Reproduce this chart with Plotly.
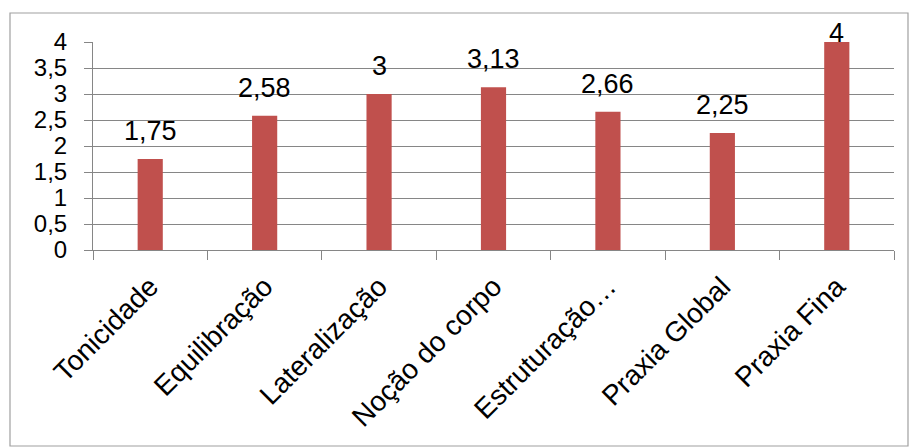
import plotly.graph_objects as go

categories = ["Tonicidade", "Equilibração", "Lateralização", "Noção do corpo",
              "Estruturação…", "Praxia Global", "Praxia Fina"]
values = [1.75, 2.58, 3, 3.13, 2.66, 2.25, 4]
labels = ["1,75", "2,58", "3", "3,13", "2,66", "2,25", "4"]

W, H = 909, 447
ml, mr, mt, mb = 93, 15, 42, 197
pw, ph = W - ml - mr, H - mt - mb
FONT = "Liberation Sans, Arial"

fig = go.Figure()
fig.add_trace(go.Bar(
    x=categories, y=values,
    marker=dict(color="#C0504D", line=dict(width=0)),
    width=0.22,
    hoverinfo="skip",
))

for c, v, t in zip(categories, values, labels):
    fig.add_annotation(
        x=c, y=v, text=t, showarrow=False, xanchor="center", yanchor="bottom",
        yshift=11 if v < 3.8 else -8,
        font=dict(family=FONT, size=27, color="#000000"),
    )

# chart border
bx0, by0, bx1, by1 = 10, 13, 908, 446
fig.add_shape(
    type="rect", xref="paper", yref="paper",
    x0=(bx0 - ml) / pw, x1=(bx1 - ml) / pw,
    y0=1 - (by1 - mt) / ph, y1=1 - (by0 - mt) / ph,
    line=dict(color="#A0A0A0", width=1.2), layer="below",
)

fig.update_layout(
    width=W, height=H,
    margin=dict(l=ml, r=mr, t=mt, b=mb, pad=0),
    paper_bgcolor="white", plot_bgcolor="white",
    separators=",.",
    showlegend=False,
    font=dict(family=FONT, size=24, color="#000000"),
    xaxis=dict(
        tickangle=-45, tickson="boundaries", ticks="outside", ticklen=9,
        tickcolor="#868686", showline=True, linecolor="#868686", linewidth=1,
        showgrid=False, tickfont=dict(family=FONT, size=28, color="#000000"),
        ticklabelstandoff=8,
    ),
    yaxis=dict(
        range=[0, 4], dtick=0.5, tick0=0, ticks="outside", ticklen=8,
        tickcolor="#868686", showline=True, linecolor="#868686", linewidth=1,
        showgrid=True, gridcolor="#868686", gridwidth=1, zeroline=False,
        tickfont=dict(family=FONT, size=24, color="#000000"), ticklabelstandoff=12,
    ),
)

fig.write_html("out.html")
